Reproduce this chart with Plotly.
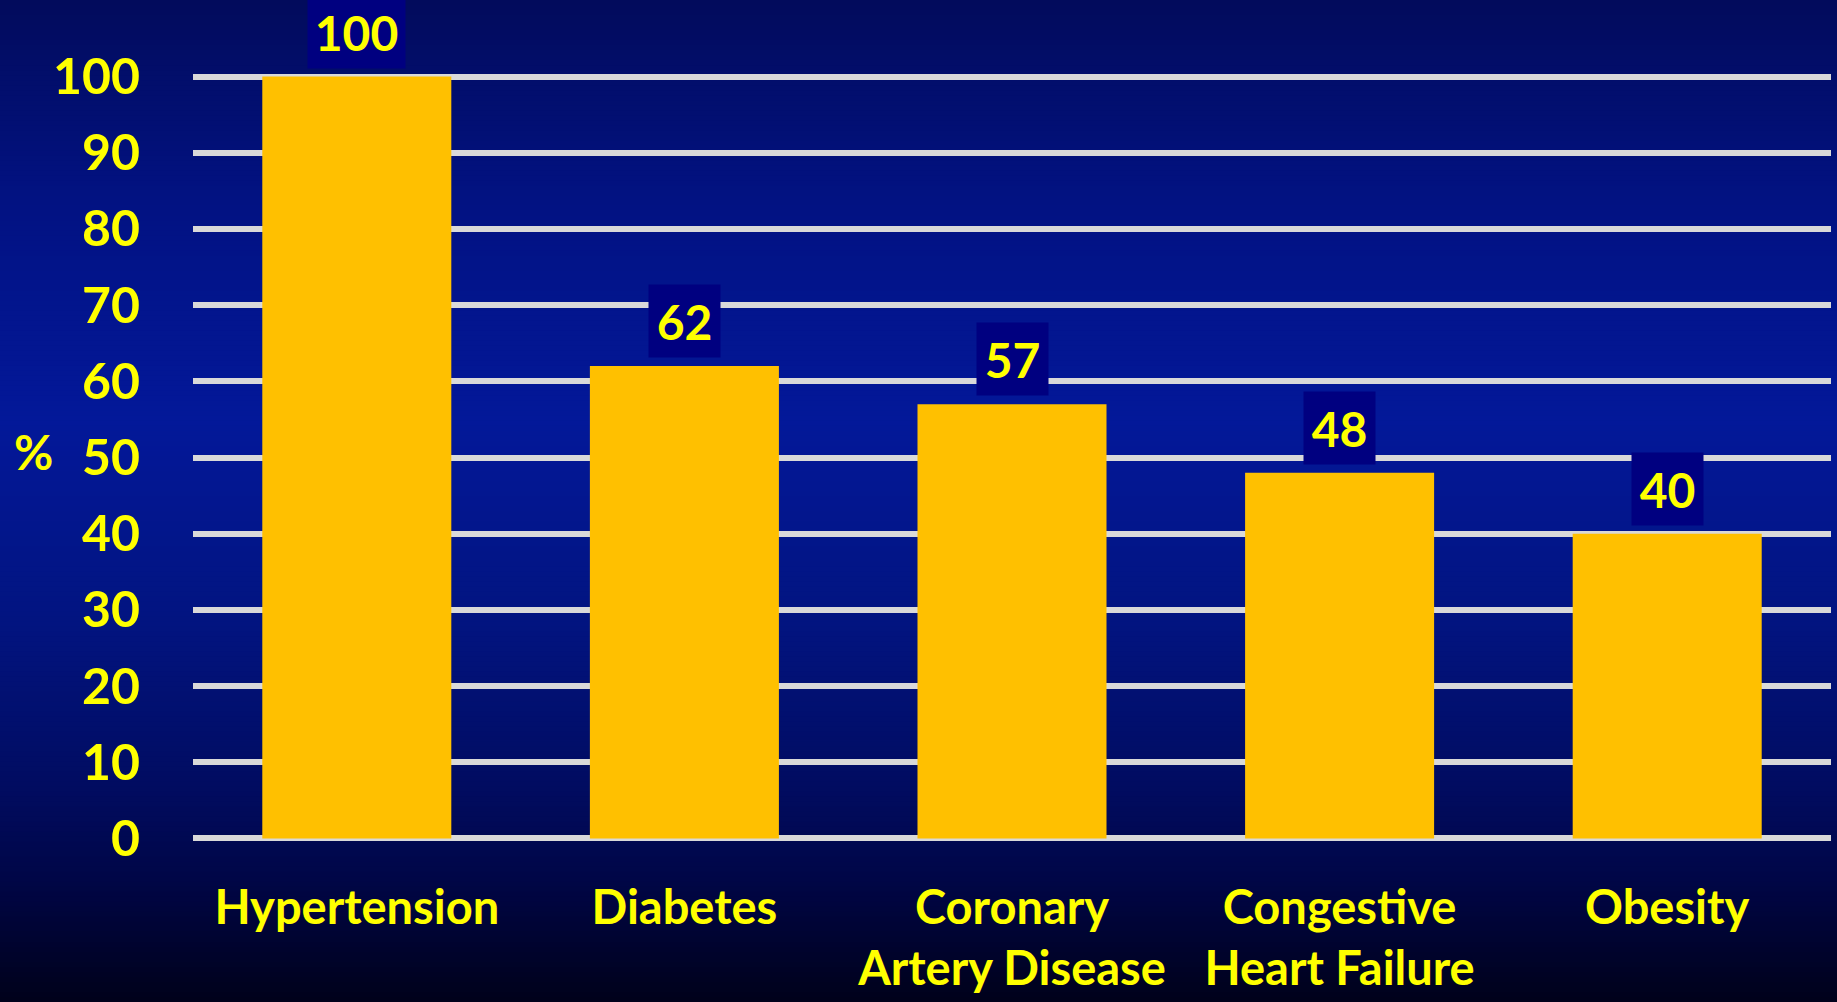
import plotly.graph_objects as go

categories = ["Hypertension", "Diabetes", "Coronary<br>Artery Disease", "Congestive<br>Heart Failure", "Obesity"]
values = [100, 62, 57, 48, 40]
y_ticks = [0, 10, 20, 30, 40, 50, 60, 70, 80, 90, 100]
y_ticktext = ["0", "10", "20", "30", "40", "50", "60", "70", "80", "90", "100"]

W, H = 1837, 1002
L, R, T, B = 193, 6, 69, 156
FONT = "Lato, 'Open Sans', sans-serif"
YELLOW = "#FFFF00"

fig = go.Figure()
fig.add_trace(go.Bar(
    x=categories, y=values,
    marker=dict(color="#FFC000", line=dict(width=0)),
    width=0.577,
    hoverinfo="skip",
))

# value label boxes
for c, v in zip(categories, values):
    n = len(str(v))
    fig.add_annotation(
        x=c, y=v, xref="x", yref="y", text="<b>%d</b>" % v,
        showarrow=False, yanchor="bottom", yshift=8,
        bgcolor="#000080", borderpad=0,
        width=26 * n + 19, height=72,
        font=dict(family=FONT, size=48, color=YELLOW),
    )

pw = W - L - R
ph = H - T - B
fig.add_annotation(
    x=(33 - L) / pw, y=50, xref="paper", yref="y", text="<b>%</b>",
    showarrow=False, xanchor="center", yanchor="middle", yshift=6,
    font=dict(family=FONT, size=48, color=YELLOW),
)

# vertical gradient background
stops = [(0.0, (2, 11, 92)), (0.2, (2, 18, 130)), (0.42, (3, 24, 153)), (0.62, (2, 20, 128)),
         (0.78, (1, 12, 98)), (0.88, (0, 6, 70)), (1.0, (0, 1, 26))]

def col(t):
    for (t0, c0), (t1, c1) in zip(stops[:-1], stops[1:]):
        if t0 <= t <= t1:
            f = (t - t0) / (t1 - t0) if t1 > t0 else 0
            return "rgb(%d,%d,%d)" % tuple(round(a + (b - a) * f) for a, b in zip(c0, c1))
    return "rgb(%d,%d,%d)" % stops[-1][1]

N = 200
x0p, x1p = -L / pw - 0.01, 1 + R / pw + 0.01
for i in range(N):
    ya = i / N
    yb = (i + 1) / N
    top_px = ya * H - (1 if i == 0 else 0)
    bot_px = yb * H + (2 if i < N - 1 else 4)
    p_top = (H - B - top_px) / ph
    p_bot = (H - B - bot_px) / ph
    fig.add_shape(type="rect", xref="paper", yref="paper", x0=x0p, x1=x1p,
                  y0=p_bot, y1=p_top, fillcolor=col((ya + yb) / 2),
                  line=dict(width=0), layer="below")

fig.update_layout(
    width=W, height=H,
    margin=dict(l=L, r=R, t=T, b=B, autoexpand=False),
    paper_bgcolor="#000A50",
    plot_bgcolor="rgba(0,0,0,0)",
    showlegend=False,
    bargap=0.42,
    font=dict(family=FONT, size=50, color=YELLOW),
    xaxis=dict(
        showgrid=False, zeroline=False, showline=False, ticks="",
        tickfont=dict(family=FONT, size=47, color=YELLOW, weight="bold"),
        tickangle=0, automargin=False,
        ticklabelstandoff=30,
        fixedrange=True,
    ),
    yaxis=dict(
        range=[-1, 101], tickmode="array", tickvals=y_ticks, ticktext=y_ticktext,
        showgrid=True, gridcolor="#D9D9D9", gridwidth=6,
        zeroline=False, showline=False, ticks="",
        tickfont=dict(family=FONT, size=50, color=YELLOW, weight="bold"),
        ticklabelstandoff=52, automargin=False,
        fixedrange=True,
    ),
)

fig.write_html("out.html", config={"displayModeBar": False},
               post_script="document.body.style.margin='0';document.body.style.overflow='hidden';")
